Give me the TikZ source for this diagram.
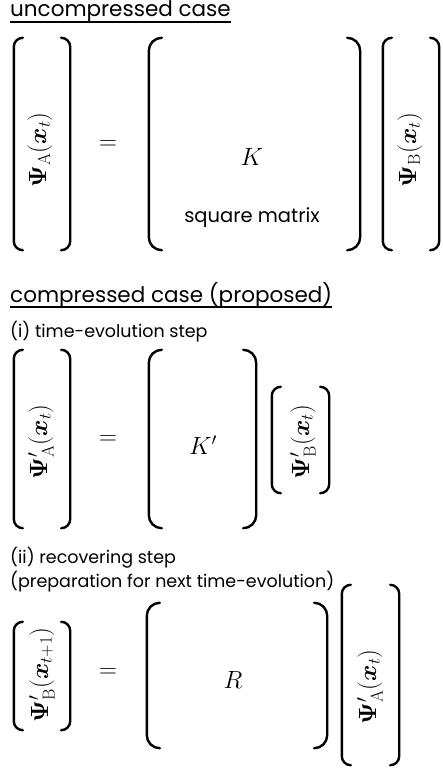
\documentclass[tikz,border=0pt]{standalone}
\usepackage{amsmath,amssymb,bm}
\usepackage{graphicx}
\usepackage[no-math]{fontspec}
\setmainfont{Poppins}
\usetikzlibrary{positioning}

% bracket pair around a named box: #1 node, #2 stub/radius
\newcommand{\vecbrackets}[2]{%
  \draw[brk, rounded corners=#2pt] ([xshift=#2pt]#1.north west) -- (#1.north west)
    -- (#1.south west) -- ([xshift=#2pt]#1.south west);
  \draw[brk, rounded corners=#2pt] ([xshift=-#2pt]#1.north east) -- (#1.north east)
    -- (#1.south east) -- ([xshift=-#2pt]#1.south east);
}

\tikzset{
  brk/.style={line width=2.4pt, line cap=round},
  uline/.style={line width=1.5pt},
  vbox/.style={inner sep=0pt, minimum width=#1},
  mathlbl/.style={inner sep=0pt, font=\fontsize{24}{28}\selectfont},
  titletext/.style={inner sep=0pt, anchor=base west, font=\fontsize{21.5}{26}\selectfont},
  steptext/.style={inner sep=0pt, anchor=base west, font=\fontsize{17.5}{21}\selectfont}
}

\begin{document}
\begin{tikzpicture}[x=1pt, y=-1pt]
  \useasboundingbox (0,0) rectangle (442,768);

  % uncompressed case
  \node[titletext] (title1) at (10,17) {uncompressed case};
  \draw[uline] ([yshift=-5pt]title1.base west) -- ([yshift=-5pt]title1.base east);

  \node[vbox=56pt, minimum height=212pt] (psiA) at (42,144) {};
  \node[mathlbl] at (40,150) {\rotatebox{90}{$\bm{\Psi}_{\mathrm{A}}(\bm{x}_t)$}};
  \node[mathlbl] (eq1) at (108,145) {$=$};
  \node[vbox=211pt, minimum height=212pt] (matK) at (254.5,144) {};
  \node[mathlbl] (Klbl) at (252,157) {$K$};
  \node[steptext, anchor=center, font=\fontsize{19.5}{23}\selectfont] (sqlbl) at (252,218) {square matrix};
  \node[vbox=56pt, minimum height=212pt] (psiB) at (411,144) {};
  \node[mathlbl] at (410,150) {\rotatebox{90}{$\bm{\Psi}_{\mathrm{B}}(\bm{x}_t)$}};
  \vecbrackets{psiA}{9}
  \vecbrackets{matK}{13}
  \vecbrackets{psiB}{9}

  % compressed case
  \node[titletext] (title2) at (10,302) {compressed case (proposed)};
  \draw[uline] ([yshift=-5pt]title2.base west) -- ([yshift=-5pt]title2.base east);
  \node[steptext] (step1) at (10,337) {(i) time-evolution step};

  \node[vbox=56pt, minimum height=178pt] (psiA2) at (42,439) {};
  \node[mathlbl] at (41,442) {\rotatebox{90}{$\bm{\Psi}'_{\mathrm{A}}(\bm{x}_t)$}};
  \node[mathlbl] (eq2) at (108,440) {$=$};
  \node[vbox=107pt, minimum height=178pt] (matK2) at (202.5,439) {};
  \node[mathlbl] (K2lbl) at (203,445) {$K'$};
  \node[vbox=57pt, minimum height=106pt] (psiB2) at (300.5,440) {};
  \node[mathlbl] at (303,442) {\rotatebox{90}{$\bm{\Psi}'_{\mathrm{B}}(\bm{x}_t)$}};
  \vecbrackets{psiA2}{9}
  \vecbrackets{matK2}{13}
  \vecbrackets{psiB2}{9}

  \node[steptext] (step2) at (10,563) {(ii) recovering step};
  \node[steptext] (step2b) at (10,587) {(preparation for next time-evolution)};

  \node[vbox=56pt, minimum height=108pt] (psiB3) at (42,676) {};
  \node[mathlbl] at (42,675) {\rotatebox{90}{$\bm{\Psi}'_{\mathrm{B}}(\bm{x}_{t+1})$}};
  \node[mathlbl] (eq3) at (108,673) {$=$};
  \node[vbox=180pt, minimum height=145pt] (matR) at (237,675.5) {};
  \node[mathlbl] (Rlbl) at (233,680) {$R$};
  \node[vbox=57pt, minimum height=180pt] (psiA3) at (370.5,675) {};
  \node[mathlbl] at (370,687) {\rotatebox{90}{$\bm{\Psi}'_{\mathrm{A}}(\bm{x}_t)$}};
  \vecbrackets{psiB3}{9}
  \vecbrackets{matR}{13}
  \vecbrackets{psiA3}{9}
\end{tikzpicture}
\end{document}
